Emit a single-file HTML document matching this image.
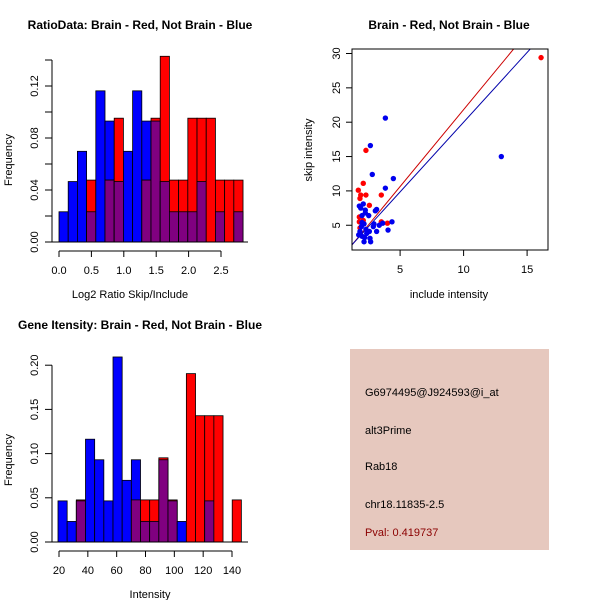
<!DOCTYPE html>
<html><head><meta charset="utf-8"><style>
body{margin:0;background:#fff;}
svg{display:block;font-family:"Liberation Sans",sans-serif;}
</style></head><body>
<svg id="c" width="600" height="600"></svg>
<script>
// Ratio histogram data (20 bins, 0..2.84)
const ratioBinStart = 0.0;
const ratioBinWidth = 0.142;
const ratioBlue = [1,2,3,1,5,4,2,3,5,4,4,2,1,1,1,2,0,1,0,1].map(v=>v/43);
const ratioRed  = [0,0,0,1,0,1,2,0,0,1,2,3,1,1,2,2,2,1,1,1].map(v=>v/21);
const ratioXTicks = ["0.0","0.5","1.0","1.5","2.0","2.5"];
const ratioYTicks = ["0.00","0.04","0.08","0.12"];
// Intensity histogram data (20 bins)
const intBinStart = 19.3;
const intBinWidth = 6.36;
const intBlue = [2,1,2,5,4,2,9,3,4,1,1,4,2,1,0,0,2,0,0,0].map(v=>v/43);
const intRed  = [0,0,1,0,0,0,0,0,1,1,1,2,1,0,4,3,3,3,0,1].map(v=>v/21);
const intXTicks = ["20","40","60","80","100","120","140"];
const intYTicks = ["0.00","0.05","0.10","0.15","0.20"];
// Scatter data
const redX = [16.1,2.31,2.1,1.71,1.9,2.31,1.84,3.52,2.58,1.79,1.79,3.52,4.0,2.1,1.84];
const redY = [29.4,15.9,11.1,10.1,9.4,9.4,8.9,9.4,7.9,6.2,5.5,5.5,5.3,5.7,4.6];
const blueX = [3.84,2.66,12.97,2.81,4.47,3.84,1.79,2.1,1.9,2.26,2.26,2.53,2.0,3.15,3.05,4.36,2.94,3.36,3.63,2.0,2.16,1.95,2.31,2.58,3.15,4.05,1.74,2.0,2.21,2.63,2.16,2.68,2.37,1.84,2.89];
const blueY = [20.6,16.6,15.0,12.4,11.8,10.4,7.8,8.1,7.5,7.2,6.8,6.4,6.4,7.3,7.1,5.5,5.2,5.0,5.3,5.4,5.2,4.8,4.4,4.1,4.1,4.3,3.6,3.4,3.2,3.1,2.6,2.6,3.8,4.1,4.8];
const redLine = [2.24,-0.57];
const blueLine = [2.03,-0.3];
const scXTicks = ["5","10","15"];
const scYTicks = ["5","10","15","20","25","30"];

const svg=document.getElementById('c');
const NS='http://www.w3.org/2000/svg';
function mk(tag,attrs,parent){const e=document.createElementNS(NS,tag);for(const k in attrs)e.setAttribute(k,attrs[k]);(parent||svg).appendChild(e);return e;}
function txt(s,x,y,o,parent){const t=mk('text',Object.assign({x:x,y:y,'font-size':11,'text-anchor':'middle',fill:'#000'},o||{}),parent);t.textContent=s;return t;}

function hist(g,blue,red,bStart,bW,xs,ys,yMaxTick,yTickStep,labStep,xTicks,yTicks,xTickVals,baseY,axY){
  for(let i=0;i<blue.length;i++){
    const x0=xs(bStart+i*bW),x1=xs(bStart+(i+1)*bW);
    const b=blue[i],r=red[i],m=Math.min(b,r);
    if(b>0){const e=mk('rect',{x:x0,y:ys(b),width:x1-x0,height:ys(0)-ys(b),fill:'#0000ff',stroke:'#000','stroke-width':0.8},g);
      
      }
    if(r>0){const e=mk('rect',{x:x0,y:ys(r),width:x1-x0,height:ys(0)-ys(r),fill:'#ff0000',stroke:'#000','stroke-width':0.8},g);
      
      }
    if(m>0){const e=mk('rect',{x:x0,y:ys(m),width:x1-x0,height:ys(0)-ys(m),fill:'#800080',stroke:'#000','stroke-width':0.8},g);
      
      }
  }
  mk('line',{x1:52,x2:248,y1:ys(0),y2:ys(0),stroke:'#000'},g);
  // y axis
  mk('line',{x1:52,x2:52,y1:ys(0),y2:ys(yMaxTick),stroke:'#000'},g);
  let n=Math.round(yMaxTick/yTickStep);
  for(let k=0;k<=n;k++){const v=k*yTickStep;mk('line',{x1:45,x2:52,y1:ys(v),y2:ys(v),stroke:'#000'},g);}
  yTicks.forEach((s,k)=>{const v=k*labStep;txt(s,38,ys(v),{transform:`rotate(-90 38 ${ys(v)})`},g);});
  // x axis
  mk('line',{x1:xs(xTickVals[0]),x2:xs(xTickVals[xTickVals.length-1]),y1:axY,y2:axY,stroke:'#000'},g);
  xTicks.forEach((s,k)=>{const v=xTickVals[k];mk('line',{x1:xs(v),x2:xs(v),y1:axY,y2:axY+6,stroke:'#000'},g);txt(s,xs(v),axY+23,{},g);});
}

// Top-left
let g1=mk('g',{});
txt('RatioData: Brain - Red, Not Brain - Blue',140,29,{'font-weight':'bold','font-size':12},g1);
hist(g1,ratioBlue,ratioRed,ratioBinStart,ratioBinWidth,v=>59+v*64.8,v=>242-v*1300,0.14,0.02,0.04,ratioXTicks,ratioYTicks,[0,0.5,1,1.5,2,2.5],242,251);
txt('Log2 Ratio Skip/Include',130,298,{},g1);
txt('Frequency',12,160,{transform:'rotate(-90 12 160)'},g1);

// Bottom-left
let g2=mk('g',{});
txt('Gene Itensity: Brain - Red, Not Brain - Blue',140,329,{'font-weight':'bold','font-size':12},g2);
hist(g2,intBlue,intRed,intBinStart,intBinWidth,v=>59+(v-20)*1.4417,v=>542-v*884,0.2,0.05,0.05,intXTicks,intYTicks,[20,40,60,80,100,120,140],542,551);
txt('Intensity',150,598,{},g2);
txt('Frequency',12,460,{transform:'rotate(-90 12 460)'},g2);

// Scatter
let g3=mk('g',{});
txt('Brain - Red, Not Brain - Blue',449,29,{'font-weight':'bold','font-size':12},g3);
const sx=v=>336.6+v*12.7, sy=v=>259.6-v*6.87;
mk('clipPath',{id:'cp'},g3).appendChild(Object.assign(document.createElementNS(NS,'rect'),{}));
const cpr=svg.querySelector('#cp rect');cpr.setAttribute('x',352);cpr.setAttribute('y',49);cpr.setAttribute('width',196);cpr.setAttribute('height',201);
const pg=mk('g',{'clip-path':'url(#cp)'},g3);
[[redLine,'#cc0000','red-fit-line'],[blueLine,'#0000aa','blue-fit-line']].forEach(([L,c,nm])=>{
  const e=mk('line',{x1:sx(1),y1:sy(L[0]*1+L[1]),x2:sx(17),y2:sy(L[0]*17+L[1]),stroke:c,'stroke-width':1},pg);
  
  
});
redX.forEach((x,i)=>{const e=mk('circle',{cx:sx(x),cy:sy(redY[i]),r:2.7,fill:'#ff0000'},pg);
  
  });
blueX.forEach((x,i)=>{const e=mk('circle',{cx:sx(x),cy:sy(blueY[i]),r:2.7,fill:'#0000ee'},pg);
  
  });
mk('rect',{x:352,y:49,width:196,height:201,fill:'none',stroke:'#000'},g3);
[5,10,15].forEach((v,k)=>{mk('line',{x1:sx(v),x2:sx(v),y1:250,y2:256,stroke:'#000'},g3);txt(scXTicks[k],sx(v),273,{},g3);});
[5,10,15,20,25,30].forEach((v,k)=>{mk('line',{x1:346,x2:352,y1:sy(v),y2:sy(v),stroke:'#000'},g3);txt(scYTicks[k],340,sy(v),{transform:`rotate(-90 340 ${sy(v)})`},g3);});
txt('include intensity',449,298,{},g3);
txt('skip intensity',312,150,{transform:'rotate(-90 312 150)'},g3);

// Info box
let g4=mk('g',{});
mk('rect',{x:350,y:349,width:199,height:201,fill:'#e6c8be'},g4);
[['G6974495@J924593@i_at',396,'#000','probe-id'],['alt3Prime',434,'#000','event-type'],['Rab18',470,'#000','gene-name'],['chr18.11835-2.5',508,'#000','location'],['Pval: 0.419737',536,'#8b0000','p-value']].forEach(a=>{
  const t=txt(a[0],365,a[1],{'text-anchor':'start',fill:a[2]},g4);
  
  
});
</script>
</body></html>
